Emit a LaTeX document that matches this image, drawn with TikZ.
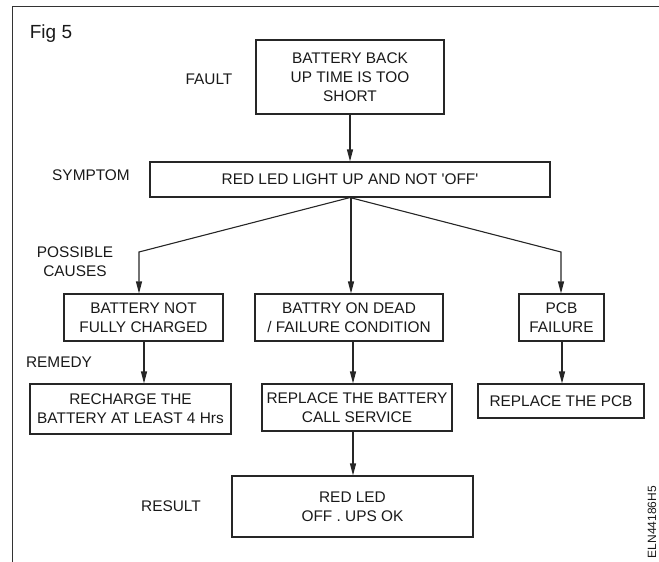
\documentclass[tikz,border=0pt]{standalone}
\usepackage{fontspec}
\setmainfont{Liberation Sans}
\usetikzlibrary{arrows.meta}
\begin{document}
\begin{tikzpicture}[x=1pt,y=-1pt,
  box/.style={draw=black!85, line width=1.1pt, align=center, inner sep=0pt,
    font=\fontsize{15.4}{19}\selectfont, text=black!90},
  lbl/.style={align=center, inner sep=0pt, font=\fontsize{15.4}{19}\selectfont, text=black!90},
  arr/.style={draw=black!85, line width=1.1pt, -{Triangle[length=12pt,width=6pt]}},
  frame/.style={draw=black!80, line width=0.9pt}]
\useasboundingbox (0,0) rectangle (659,562);
% frame
\coordinate (ftr) at (659,6);
\coordinate (ftl) at (12,6);
\coordinate (fbl) at (12,562);
\draw[frame] (ftr) -- (ftl) -- (fbl);
% labels
\node[lbl, font=\fontsize{19}{22}\selectfont] (fig) at (51,34) {Fig 5};
\node[lbl] (lfault) at (209,79) {FAULT};
\node[lbl] (lsym) at (91,175) {SYMPTOM};
\node[lbl] (lcause) at (75,261.5) {POSSIBLE\\CAUSES};
\node[lbl] (lrem) at (59,362) {REMEDY};
\node[lbl] (lres) at (171,506) {RESULT};
\node[lbl, font=\fontsize{12}{13}\selectfont, rotate=90] (code) at (652,522) {ELN44186H5};
% boxes
\node[box, minimum width=188pt, minimum height=74pt] (b1) at (350,77) {BATTERY BACK\\UP TIME IS TOO\\SHORT};
\node[box, minimum width=400pt, minimum height=35pt] (b2) at (350,179.5) {RED LED LIGHT UP AND NOT \textquotesingle OFF\textquotesingle};
\node[box, minimum width=159pt, minimum height=47pt] (c1) at (143.5,317.5) {BATTERY NOT\\FULLY CHARGED};
\node[box, minimum width=188pt, minimum height=47pt] (c2) at (349,317.5) {BATTRY ON DEAD\\/ FAILURE CONDITION};
\node[box, minimum width=85pt, minimum height=47pt] (c3) at (561.5,317.5) {PCB\\FAILURE};
\node[box, minimum width=201pt, minimum height=50pt] (r1) at (130.5,409) {RECHARGE THE\\BATTERY AT LEAST 4 Hrs};
\node[box, minimum width=190pt, minimum height=47pt] (r2) at (357,407.5) {REPLACE THE BATTERY\\CALL SERVICE};
\node[box, minimum width=166pt, minimum height=34pt] (r3) at (561,401) {REPLACE THE PCB};
\node[box, minimum width=241pt, minimum height=61pt] (res) at (352.5,506.5) {RED LED\\OFF . UPS OK};
% connectors
\coordinate (kl) at (139,252);
\coordinate (kr) at (561,252);
\coordinate (km) at (351,252);
\draw[arr] (b1.south) -- (b2.north);
\draw[arr] (b2.south) -- (kl) -- (kl |- c1.north);
\draw[arr] (b2.south -| km) -- (km |- c2.north);
\draw[arr] (b2.south) -- (kr) -- (kr |- c3.north);
\coordinate (al) at (144,341);
\coordinate (am) at (353,341);
\coordinate (ar) at (562,341);
\draw[arr] (al |- c1.south) -- (al |- r1.north);
\draw[arr] (am |- c2.south) -- (am |- r2.north);
\draw[arr] (ar |- c3.south) -- (ar |- r3.north);
\draw[arr] (am |- r2.south) -- (am |- res.north);
\end{tikzpicture}
\end{document}
